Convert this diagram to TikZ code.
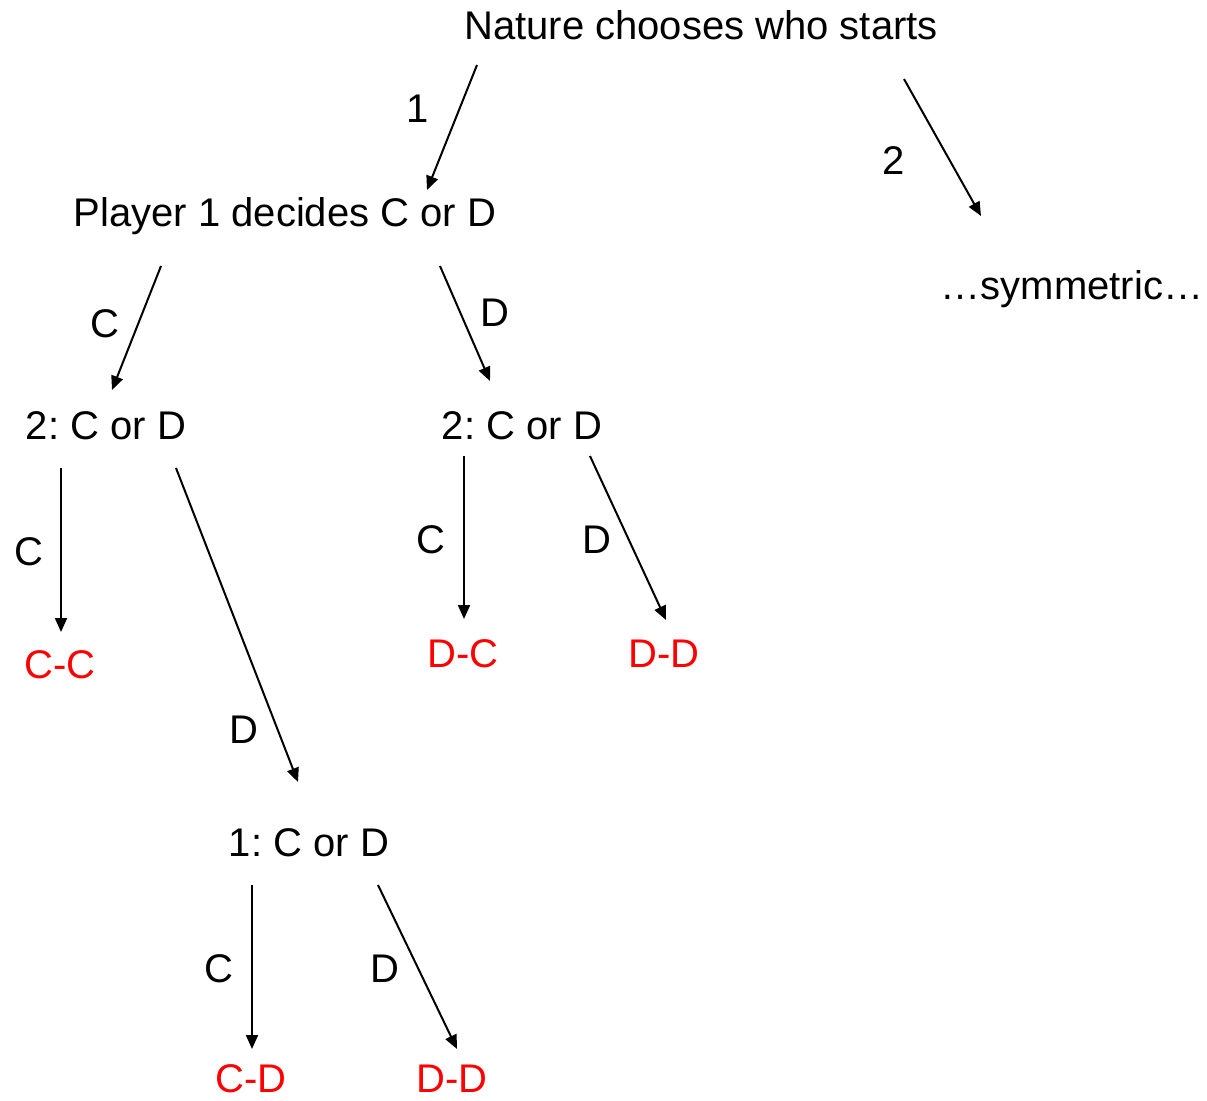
\documentclass[tikz,border=0pt]{standalone}
\usepackage{fontspec}
\setmainfont{Liberation Sans}
\usetikzlibrary{arrows.meta}
\frenchspacing
\begin{document}
\begin{tikzpicture}[x=0.5pt,y=-0.5pt,
  lbl/.style={font=\fontsize{20}{24}\selectfont, inner sep=0pt, anchor=center},
  outc/.style={lbl, text=red},
  arr/.style={line width=1pt, -{Triangle[length=7pt,width=6pt]}}]
\useasboundingbox (0,0) rectangle (1207,1100);
% nodes
\node[lbl] (nature) at (701,25) {Nature chooses who starts};
\node[lbl] (p1) at (285,216) {Player 1 decides C or D};
\node[lbl] (sym) at (1072,289) {\dots symmetric\dots};
\node[lbl] (l2) at (106,426) {2: C or D};
\node[lbl] (r2) at (522,426) {2: C or D};
\node[lbl] (b1) at (309,843) {1: C or D};
\node[outc] (cc) at (60,665) {C-C};
\node[outc] (dc) at (463,654) {D-C};
\node[outc] (dd1) at (664,654) {D-D};
\node[outc] (cd) at (251,1079) {C-D};
\node[outc] (dd2) at (452,1079) {D-D};
% edge labels
\node[lbl] (e1) at (418,109) {1};
\node[lbl] (e2) at (894,161) {2};
\node[lbl] (e3) at (105,324) {C};
\node[lbl] (e4) at (495,313) {D};
\node[lbl] (e5) at (29,552) {C};
\node[lbl] (e6) at (244,730) {D};
\node[lbl] (e7) at (431,540) {C};
\node[lbl] (e8) at (597,540) {D};
\node[lbl] (e9) at (219,969) {C};
\node[lbl] (e10) at (385,969) {D};
% connector ends
\coordinate (a1s) at (477,65);   \coordinate (a1e) at (427,190);
\coordinate (a2s) at (904,79);   \coordinate (a2e) at (981,216);
\coordinate (a3s) at (161,266);  \coordinate (a3e) at (112,390);
\coordinate (a4s) at (440,266);  \coordinate (a4e) at (490,381);
\coordinate (a5s) at (61,468);   \coordinate (a5e) at (61,632);
\coordinate (a6s) at (176,468);  \coordinate (a6e) at (298,782);
\coordinate (a7s) at (464,456);  \coordinate (a7e) at (464,619);
\coordinate (a8s) at (590,456);  \coordinate (a8e) at (666,620);
\coordinate (a9s) at (252,885);  \coordinate (a9e) at (252,1049);
\coordinate (a10s) at (378,885); \coordinate (a10e) at (457,1049);
% connectors
\foreach \i in {1,...,10} \draw[arr] (a\i s) -- (a\i e);
\end{tikzpicture}
\end{document}
